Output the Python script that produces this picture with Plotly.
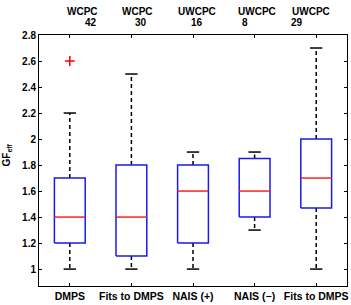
import plotly.graph_objects as go

categories = ["DMPS", "Fits to DMPS", "NAIS (+)", "NAIS (\u2212)", "Fits to DMPS"]
instruments = ["WCPC", "WCPC", "UWCPC", "UWCPC", "UWCPC"]
counts = ["42", "30", "16", "8", "29"]
lower_whisker = [1.0, 1.0, 1.0, 1.3, 1.0]
q1 = [1.2, 1.1, 1.2, 1.4, 1.47]
median = [1.4, 1.4, 1.6, 1.6, 1.7]
q3 = [1.7, 1.8, 1.8, 1.85, 2.0]
upper_whisker = [2.2, 2.5, 1.9, 1.9, 2.7]
outlier_x = [1]
outlier_y = [2.6]
y_ticks = [1, 1.2, 1.4, 1.6, 1.8, 2, 2.2, 2.4, 2.6, 2.8]
y_ticklabels = ["1", "1.2", "1.4", "1.6", "1.8", "2", "2.2", "2.4", "2.6", "2.8"]

BW = 0.25   # half box width
CW = 0.1    # half cap width
LW = 1.5
FONT = "Liberation Sans, Arial"

fig = go.Figure()
for i in range(len(categories)):
    x = i + 1
    fig.add_trace(go.Scatter(x=[x, x, None, x, x],
                             y=[q3[i], upper_whisker[i], None, q1[i], lower_whisker[i]],
                             mode="lines", line=dict(color="black", width=LW, dash="4px,3px"),
                             hoverinfo="skip", showlegend=False))
    fig.add_trace(go.Scatter(x=[x - CW, x + CW, None, x - CW, x + CW],
                             y=[upper_whisker[i], upper_whisker[i], None, lower_whisker[i], lower_whisker[i]],
                             mode="lines", line=dict(color="black", width=LW),
                             hoverinfo="skip", showlegend=False))
    fig.add_trace(go.Scatter(x=[x - BW, x + BW, x + BW, x - BW, x - BW],
                             y=[q1[i], q1[i], q3[i], q3[i], q1[i]],
                             mode="lines", line=dict(color="#1a1aee", width=LW),
                             hoverinfo="skip", showlegend=False))
    fig.add_trace(go.Scatter(x=[x - BW, x + BW], y=[median[i], median[i]],
                             mode="lines", line=dict(color="#ff2020", width=LW),
                             hoverinfo="skip", showlegend=False))

fig.add_trace(go.Scatter(x=outlier_x, y=outlier_y, mode="markers",
                         marker=dict(symbol="cross-thin", size=7, line=dict(color="red", width=1.5)),
                         showlegend=False))

label_shift = [12.7, 6.3, 4, 2.2, -5]
count_shift = [21, 9.3, 3.5, -10, -19.6]
for i in range(len(categories)):
    fig.add_annotation(x=i + 1, y=1, xref="x", yref="paper", yanchor="middle",
                       text="<b>%s</b>" % instruments[i], showarrow=False,
                       xshift=label_shift[i], yshift=24,
                       font=dict(size=10, color="black", family=FONT))
    fig.add_annotation(x=i + 1, y=1, xref="x", yref="paper", yanchor="middle",
                       text="<b>%s</b>" % counts[i], showarrow=False,
                       xshift=count_shift[i], yshift=12.5,
                       font=dict(size=10, color="black", family=FONT))

fig.add_annotation(x=0, y=0.5, xref="paper", yref="paper", text="<b>GF<sub>eff</sub></b>",
                   showarrow=False, textangle=-90, xanchor="center", yanchor="middle",
                   xshift=-33, yshift=5,
                   font=dict(size=10, color="black", family=FONT))

fig.update_xaxes(range=[0.5, 5.5], tickvals=[1, 2, 3, 4, 5],
                 ticktext=["<b>%s</b>" % c for c in categories],
                 ticks="inside", ticklen=3, tickcolor="black", mirror="ticks",
                 showline=True, linecolor="black", linewidth=1, showgrid=False, zeroline=False,
                 tickfont=dict(size=10.5, color="black", family=FONT))
fig.update_yaxes(range=[0.87, 2.8], tickvals=y_ticks,
                 ticktext=["<b>%s</b>" % t for t in y_ticklabels],
                 ticks="inside", ticklen=3, tickcolor="black", mirror="ticks",
                 showline=True, linecolor="black", linewidth=1, showgrid=False, zeroline=False,
                 tickfont=dict(size=10, color="black", family=FONT))

fig.update_layout(width=351, height=305, margin=dict(l=39, r=3, t=35, b=16),
                  plot_bgcolor="white", paper_bgcolor="white")
fig.write_html("out.html")
